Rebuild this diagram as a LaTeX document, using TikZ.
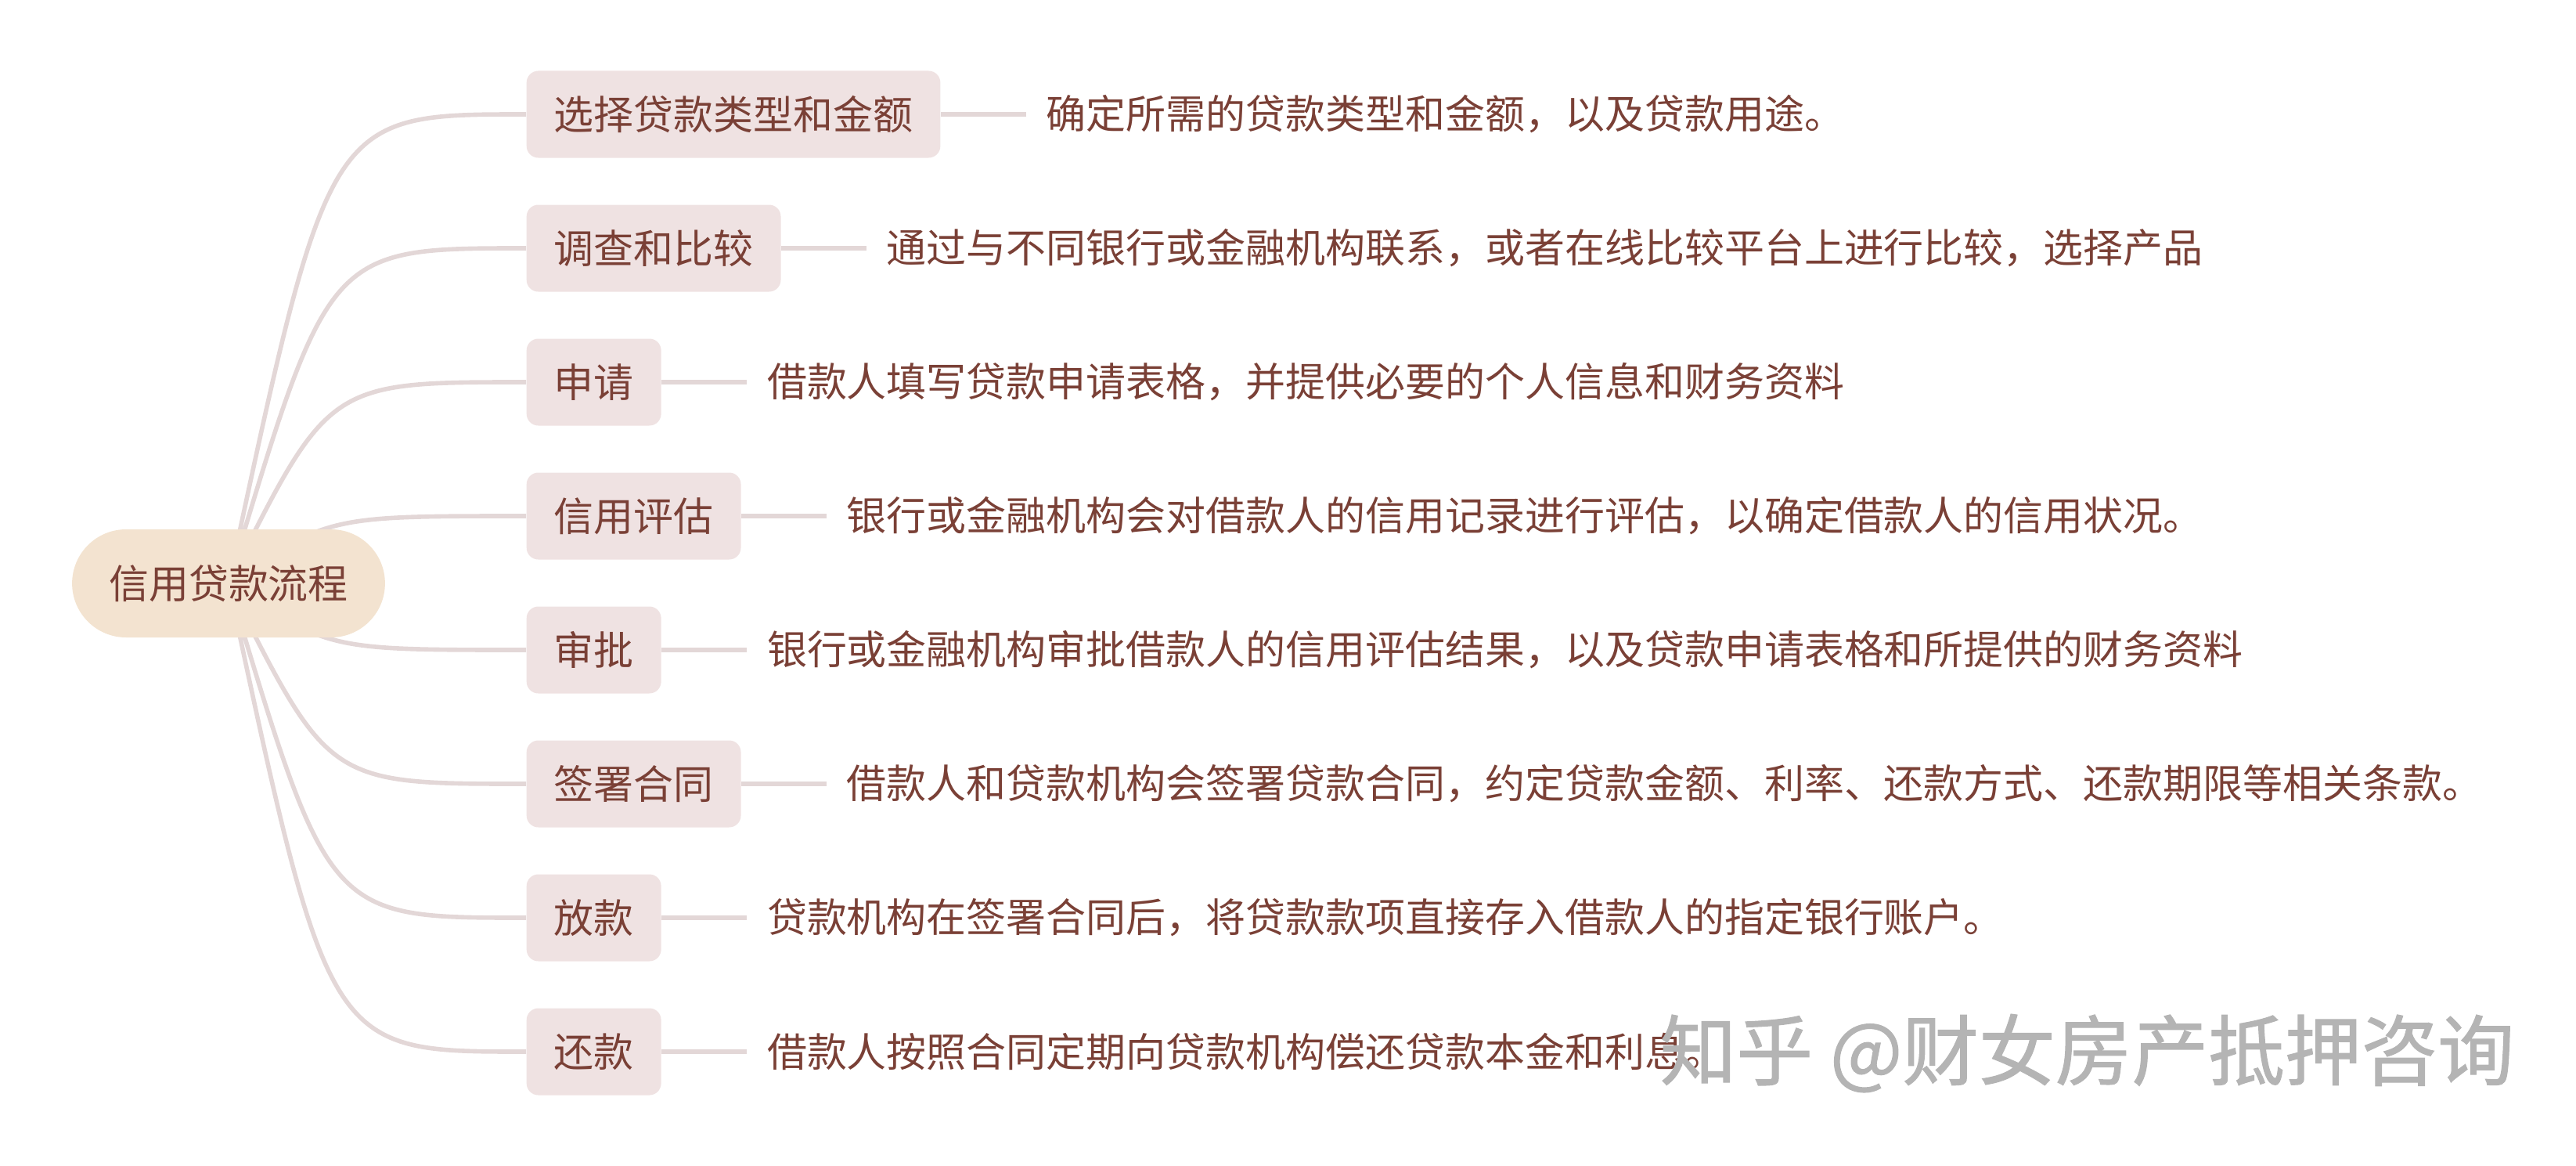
\documentclass[tikz,border=0pt]{standalone}
\usepackage{fontspec}
\newfontfamily\cjk{Noto Sans CJK SC}
\newfontfamily\markfont[FakeBold=1.2]{Noto Sans CJK SC}
\usetikzlibrary{positioning, backgrounds}
\definecolor{inkbrown}{HTML}{7A4036}
\definecolor{rootfill}{HTML}{F3E3D0}
\definecolor{topicfill}{HTML}{EFE2E2}
\definecolor{linkcol}{HTML}{E3D7D7}
\definecolor{markgray}{HTML}{B4B4B4}

\tikzset{
    root/.style={fill=rootfill, rounded corners=0.69cm, minimum height=1.38cm,
        inner xsep=0.47cm, text=inkbrown, font=\cjk\fontsize{14.5}{17}\selectfont},
    topic/.style={fill=topicfill, rounded corners=0.15cm, minimum height=1.11cm,
        inner xsep=0.35cm, anchor=west, text=inkbrown, font=\cjk\fontsize{14.5}{17}\selectfont},
    detail/.style={inner xsep=0.25cm, text=inkbrown, font=\cjk\fontsize{14.5}{17}\selectfont},
    branch/.style={draw=linkcol, line width=1.6pt},
}

\begin{document}
\begin{tikzpicture}
    \useasboundingbox (0,0) rectangle (32.91,14.88);

    \node[root] (root) at (2.92,7.43) {信用贷款流程};
    \coordinate (hub) at (4.20,7.43);

    \node[topic] (t1) at (6.72,13.42) {选择贷款类型和金额};
    \node[topic] (t2) at (6.72,11.71) {调查和比较};
    \node[topic] (t3) at (6.72,10.00) {申请};
    \node[topic] (t4) at (6.72,8.29) {信用评估};
    \node[topic] (t5) at (6.72,6.58) {审批};
    \node[topic] (t6) at (6.72,4.87) {签署合同};
    \node[topic] (t7) at (6.72,3.16) {放款};
    \node[topic] (t8) at (6.72,1.45) {还款};

    \node[detail, right=1.09cm of t1] (d1) {确定所需的贷款类型和金额，以及贷款用途。};
    \node[detail, right=1.09cm of t2] (d2) {通过与不同银行或金融机构联系，或者在线比较平台上进行比较，选择产品};
    \node[detail, right=1.09cm of t3] (d3) {借款人填写贷款申请表格，并提供必要的个人信息和财务资料};
    \node[detail, right=1.09cm of t4] (d4) {银行或金融机构会对借款人的信用记录进行评估，以确定借款人的信用状况。};
    \node[detail, right=1.09cm of t5] (d5) {银行或金融机构审批借款人的信用评估结果，以及贷款申请表格和所提供的财务资料};
    \node[detail, right=1.09cm of t6] (d6) {借款人和贷款机构会签署贷款合同，约定贷款金额、利率、还款方式、还款期限等相关条款。};
    \node[detail, right=1.09cm of t7] (d7) {贷款机构在签署合同后，将贷款款项直接存入借款人的指定银行账户。};
    \node[detail, right=1.09cm of t8] (d8) {借款人按照合同定期向贷款机构偿还贷款本金和利息。};

    \begin{scope}[on background layer]
        \draw[branch]
            (root.center) .. controls (hub |- t1.west) .. (t1.west)
            (root.center) .. controls (hub |- t2.west) .. (t2.west)
            (root.center) .. controls (hub |- t3.west) .. (t3.west)
            (root.center) .. controls (hub |- t4.west) .. (t4.west)
            (root.center) .. controls (hub |- t5.west) .. (t5.west)
            (root.center) .. controls (hub |- t6.west) .. (t6.west)
            (root.center) .. controls (hub |- t7.west) .. (t7.west)
            (root.center) .. controls (hub |- t8.west) .. (t8.west)
            ;
    \end{scope}

    \draw[branch]
        (t1) -- (d1)
        (t2) -- (d2)
        (t3) -- (d3)
        (t4) -- (d4)
        (t5) -- (d5)
        (t6) -- (d6)
        (t7) -- (d7)
        (t8) -- (d8)
        ;

    % watermark
    \node[text=markgray, font=\markfont\fontsize{27.8}{30}\selectfont, anchor=west, inner sep=0pt] (mark) at (21.20,1.43) {知乎 @财女房产抵押咨询};
\end{tikzpicture}
\end{document}
